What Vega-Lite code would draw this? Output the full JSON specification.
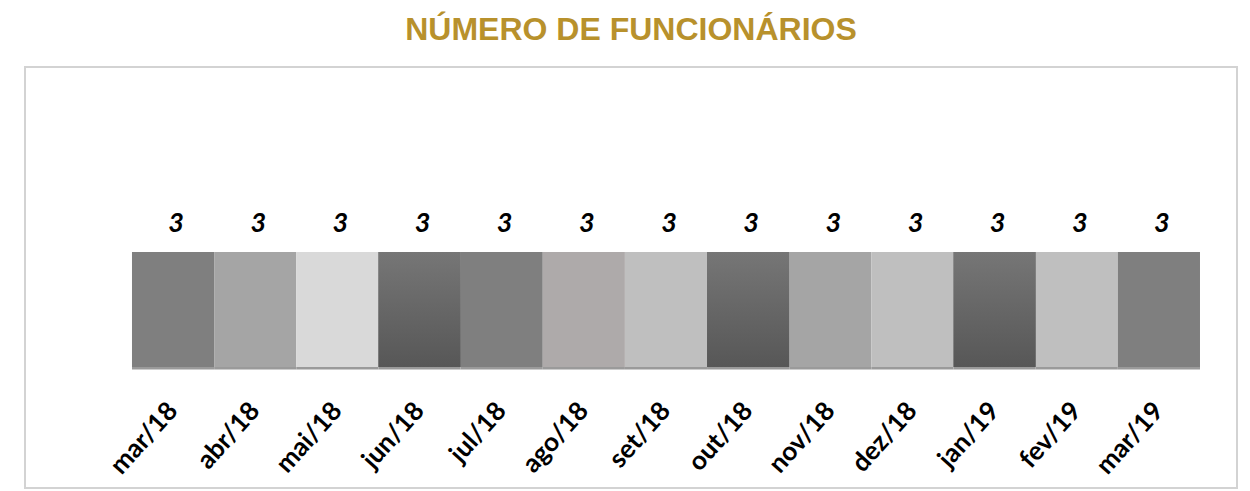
{
  "$schema": "https://vega.github.io/schema/vega-lite/v6.json",
  "autosize": {"type": "none"},
  "width": 1212,
  "height": 421,
  "padding": {"left": 25, "top": 67, "right": 13, "bottom": 3},
  "background": "white",
  "title": {
    "text": "NÚMERO DE FUNCIONÁRIOS",
    "font": "Liberation Sans",
    "fontSize": 32,
    "fontWeight": "bold",
    "color": "#b8912c",
    "anchor": "middle",
    "baseline": "alphabetic",
    "offset": 0,
    "dy": 5
  },
  "config": {
    "view": {"stroke": "#d3d3d3", "strokeWidth": 2}
  },
  "data": {
    "values": [
      {"mes": "mar/18", "funcionarios": 3},
      {"mes": "abr/18", "funcionarios": 3},
      {"mes": "mai/18", "funcionarios": 3},
      {"mes": "jun/18", "funcionarios": 3},
      {"mes": "jul/18", "funcionarios": 3},
      {"mes": "ago/18", "funcionarios": 3},
      {"mes": "set/18", "funcionarios": 3},
      {"mes": "out/18", "funcionarios": 3},
      {"mes": "nov/18", "funcionarios": 3},
      {"mes": "dez/18", "funcionarios": 3},
      {"mes": "jan/19", "funcionarios": 3},
      {"mes": "fev/19", "funcionarios": 3},
      {"mes": "mar/19", "funcionarios": 3}
    ]
  },
  "encoding": {
    "x": {
      "field": "mes",
      "type": "nominal",
      "sort": null,
      "scale": {"paddingInner": 0, "paddingOuter": 0.8764, "align": 0.743},
      "axis": {
        "title": null,
        "domain": false,
        "ticks": false,
        "grid": false,
        "offset": -119,
        "labelAngle": -48,
        "labelAlign": "right",
        "labelBaseline": "middle",
        "labelFont": "Lato",
        "labelFontWeight": "bold",
        "labelFontSize": 26,
        "labelColor": "#000000",
        "labelPadding": 37
      }
    }
  },
  "layer": [
    {
      "mark": {"type": "bar"},
      "encoding": {
        "y": {
          "field": "funcionarios",
          "type": "quantitative",
          "scale": {"domain": [-3.157, 7.826], "nice": false, "zero": false},
          "axis": null
        },
        "y2": {"datum": 0},
        "color": {
          "field": "mes",
          "type": "nominal",
          "legend": null,
          "scale": {
            "domain": ["mar/18", "abr/18", "mai/18", "jun/18", "jul/18", "ago/18", "set/18", "out/18", "nov/18", "dez/18", "jan/19", "fev/19", "mar/19"],
            "range": ["#7f7f7f", "#a5a5a5", "#d9d9d9", "#666666", "#7f7f7f", "#aeaaaa", "#bfbfbf", "#666666", "#a5a5a5", "#bfbfbf", "#666666", "#bfbfbf", "#7f7f7f"]
          }
        }
      }
    },
    {
      "transform": [{"filter": {"field": "mes", "oneOf": ["jun/18", "out/18", "jan/19"]}}],
      "mark": {
        "type": "bar",
        "color": {
          "gradient": "linear",
          "x1": 0, "y1": 0, "x2": 0, "y2": 1,
          "stops": [
            {"offset": 0, "color": "#767676"},
            {"offset": 1, "color": "#575757"}
          ]
        }
      },
      "encoding": {
        "y": {"field": "funcionarios", "type": "quantitative"},
        "y2": {"datum": 0}
      }
    },
    {
      "mark": {"type": "bar", "color": "#9a9a9a"},
      "encoding": {
        "y": {"datum": 0},
        "y2": {"datum": -0.065}
      }
    },
    {
      "mark": {
        "type": "text",
        "font": "Lato",
        "fontSize": 27,
        "fontWeight": "bold",
        "fontStyle": "italic",
        "color": "#000000",
        "baseline": "alphabetic",
        "dy": -20,
        "dx": 3
      },
      "encoding": {
        "y": {"field": "funcionarios", "type": "quantitative"},
        "text": {"field": "funcionarios", "type": "quantitative"}
      }
    }
  ]
}
